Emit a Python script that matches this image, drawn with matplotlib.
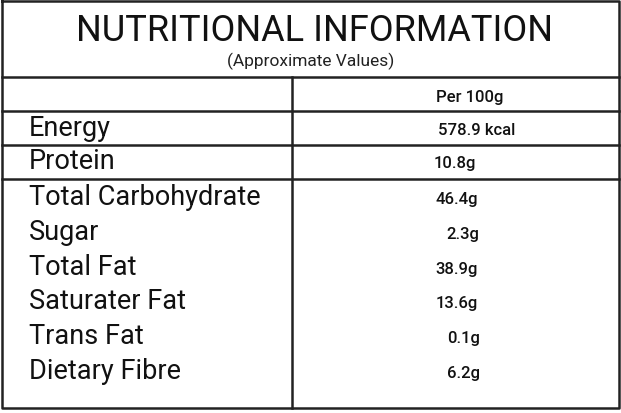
import matplotlib
matplotlib.use("Agg")
import matplotlib.pyplot as plt

title = "NUTRITIONAL INFORMATION"
subtitle = "(Approximate Values)"
column_header = "Per 100g"
nutrients = ["Energy", "Protein", "Total Carbohydrate", "Sugar", "Total Fat",
             "Saturater Fat", "Trans Fat", "Dietary Fibre"]
amounts = ["578.9 kcal", "10.8g", "46.4g", "2.3g", "38.9g", "13.6g", "0.1g", "6.2g"]

W, H = 621, 414
fig = plt.figure(figsize=(W/100, H/100), dpi=100)
ax = fig.add_axes([0, 0, 1, 1])
ax.set_xlim(0, W); ax.set_ylim(H, 0); ax.axis("off")

lc = "#222222"
lw = 1.8
ax.plot([2, 619, 619, 2, 2], [2, 2, 409, 409, 2], color=lc, lw=lw)
for y in [78, 112, 146, 180]:
    ax.plot([2, 619], [y, y], color=lc, lw=lw)
ax.plot([292, 292], [78, 409], color=lc, lw=lw)

fam = ["Roboto", "DejaVu Sans"]
ax.text(314, 31, title, ha="center", va="center", fontsize=26, family=fam,
        fontweight="normal", color="#111111")
ax.text(311, 61, subtitle, ha="center", va="center", fontsize=12.5, family=fam, color="#222222")
ax.text(470, 98, column_header, ha="center", va="center", fontsize=12, family=fam,
        fontweight="medium", color="#111111")

row_y = [129, 162, 198, 233, 268, 302, 337, 372]
val_x = [477, 455, 457, 463, 457, 457, 464, 464]
for name, val, y, x in zip(nutrients, amounts, row_y, val_x):
    ax.text(29, y, name, ha="left", va="center", fontsize=19.5, family=fam, color="#111111")
    ax.text(x, y + 2, val, ha="center", va="center", fontsize=12, family=fam,
            fontweight="medium", color="#111111")

fig.savefig("out.png", dpi=100, facecolor="white")
